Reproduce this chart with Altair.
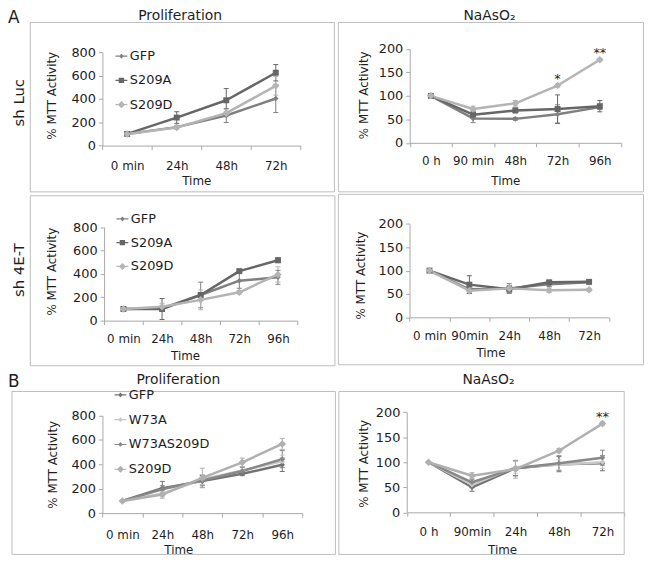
import altair as alt
import pandas as pd

W, H = 644, 550
FONT = "DejaVu Sans"
INK = "#1e1e1e"
AXC = "#a8a8a8"
FRAME = "#bdbdbd"

# ---------------- values ----------------
a_series = ["GFP", "S209A", "S209D"]
b_series = ["GFP", "W73A", "W73AS209D", "S209D"]
prolif_ticks = [0, 200, 400, 600, 800]
arsenite_ticks = [0, 50, 100, 150, 200]

# A, sh Luc, Proliferation
a1_times = ["0 min", "24h", "48h", "72h"]
a1_gfp = [100, 158, 258, 403]
a1_gfp_err = [0, 15, 60, 120]
a1_s209a = [100, 240, 388, 624]
a1_s209a_err = [0, 50, 100, 70]
a1_s209d = [100, 155, 278, 512]
a1_s209d_err = [0, 15, 30, 80]

# A, sh Luc, NaAsO2
a2_times = ["0 h", "90 min", "48h", "72h", "96h"]
a2_gfp = [100, 52, 51, 61, 76]
a2_gfp_err = [0, 9, 3, 20, 5]
a2_s209a = [100, 60, 69, 72, 78]
a2_s209a_err = [0, 8, 5, 30, 12]
a2_s209d = [100, 72, 84, 122, 177]
a2_s209d_err = [0, 6, 6, 3, 3]
a2_star_times = ["72h", "96h"]
a2_star_values = [122, 177]
a2_star_marks = ["*", "**"]

# A, sh 4E-T, Proliferation
a3_times = ["0 min", "24h", "48h", "72h", "96h"]
a3_gfp = [100, 105, 220, 342, 371]
a3_gfp_err = [0, 20, 110, 65, 60]
a3_s209a = [100, 100, 220, 424, 517]
a3_s209a_err = [0, 90, 20, 15, 20]
a3_s209d = [100, 119, 178, 243, 396]
a3_s209d_err = [0, 30, 85, 15, 65]

# A, sh 4E-T, NaAsO2
a4_times = ["0 min", "90min", "24h", "48h", "72h"]
a4_gfp = [100, 60, 62, 71, 75]
a4_gfp_err = [0, 8, 10, 5, 3]
a4_s209a = [100, 70, 60, 75, 76]
a4_s209a_err = [0, 19, 8, 4, 3]
a4_s209d = [100, 57, 62, 58, 59]
a4_s209d_err = [0, 4, 5, 5, 3]

# B, Proliferation
b1_times = ["0 min", "24h", "48h", "72h", "96h"]
b1_gfp = [100, 205, 262, 322, 396]
b1_gfp_err = [0, 55, 50, 15, 55]
b1_w73a = [100, 160, 275, 350, 425]
b1_w73a_err = [0, 25, 40, 30, 50]
b1_w73as209d = [100, 195, 268, 345, 442]
b1_w73as209d_err = [0, 30, 40, 30, 70]
b1_s209d = [100, 152, 288, 416, 567]
b1_s209d_err = [0, 30, 80, 35, 45]

# B, NaAsO2
b2_times = ["0 h", "90min", "24h", "48h", "72h"]
b2_gfp = [100, 50, 88, 96, 98]
b2_gfp_err = [0, 8, 15, 15, 15]
b2_w73a = [100, 55, 90, 95, 100]
b2_w73a_err = [0, 6, 12, 10, 12]
b2_w73as209d = [100, 60, 88, 98, 109]
b2_w73as209d_err = [0, 6, 15, 15, 15]
b2_s209d = [100, 73, 86, 123, 177]
b2_s209d_err = [0, 6, 18, 4, 3]
b2_star_times = ["72h"]
b2_star_values = [177]
b2_star_marks = ["**"]

# ---------------- styles ----------------
a_colors = ["#808080", "#666666", "#b4b4b4"]
b_colors = ["#727272", "#c8c8c8", "#888888", "#b0b0b0"]

DIA_S = "M0,-0.7L0.7,0L0,0.7L-0.7,0Z"
DIA_L = "M0,-0.95L0.95,0L0,0.95L-0.95,0Z"
SQR = "M-0.75,-0.75L0.75,-0.75L0.75,0.75L-0.75,0.75Z"
a_markers = [DIA_S, SQR, DIA_L]
b_markers = [DIA_S, DIA_S, DIA_S, DIA_L]

STUB = "M-1,-0.1L1,-0.1L1,0.1L-1,0.1Z "
L_DIA_S = STUB + "M0,-0.4L0.4,0L0,0.4L-0.4,0Z"
L_DIA_L = STUB + "M0,-0.6L0.6,0L0,0.6L-0.6,0Z"
L_SQR = STUB + "M-0.45,-0.45L0.45,-0.45L0.45,0.45L-0.45,0.45Z"
a_legend_marks = [L_DIA_S, L_SQR, L_DIA_L]
b_legend_marks = [L_DIA_S, L_DIA_S, L_DIA_S, L_DIA_L]


def long_table(times, series, vals, errs):
    rows = []
    for s, v, e in zip(series, vals, errs):
        for i, (t, vv, ee) in enumerate(zip(times, v, e)):
            rows.append({"time": t, "idx": i, "series": s, "value": vv,
                         "err": ee, "lo": vv - ee, "hi": vv + ee})
    return pd.DataFrame(rows)


def panel(df, times, series, colors, markers, ticks, g, leg=None, legend_marks=None, stars=None):
    xscale = alt.Scale(type="band", domain=times, range=[g["x0"], g["x1"]],
                       paddingInner=0, paddingOuter=0)
    yscale = alt.Scale(type="linear", domain=[ticks[0], ticks[-1]], range=[g["y0"], g["y1"]],
                       nice=False, zero=False)
    xaxis = alt.Axis(orient="bottom", offset=g["y0"] - H, title="Time", tickBand="extent",
                     labelAngle=0, labelFont=FONT, labelFontSize=12, labelColor=INK,
                     labelPadding=g["xpad"], labelOverlap=False, tickSize=4, tickColor=AXC,
                     domainColor=AXC, grid=False, titleFont=FONT, titleFontSize=12,
                     titleFontWeight="normal", titleColor=INK, titleX=g["tx"],
                     titleY=g["ty"] - g["y0"], titleAlign="center", titleBaseline="middle")
    yaxis = alt.Axis(orient="left", offset=-g["x0"], values=ticks, title="% MTT Activity",
                     labelFont=FONT, labelFontSize=13, labelColor=INK, labelPadding=3,
                     labelOverlap=False, tickSize=4, tickColor=AXC, domainColor=AXC, grid=False,
                     titleFont=FONT, titleFontSize=12, titleFontWeight="normal", titleColor=INK,
                     titleAngle=270, titleX=g["yx"] - g["x0"], titleY=g["yy"],
                     titleAlign="center", titleBaseline="middle")

    def X():
        return alt.X("time:N", scale=xscale, axis=xaxis, bandPosition=0.5)

    def Y(f):
        return alt.Y(f + ":Q", scale=yscale, axis=yaxis)

    def C(legend=None):
        if legend is None:
            return alt.Color("series:N", scale=alt.Scale(domain=series, range=colors), legend=None)
        return alt.Color("series:N", scale=alt.Scale(domain=series, range=colors), legend=legend, title=None)

    base = alt.Chart(df)
    errs = base.transform_filter("datum.err > 0")
    layers = [
        errs.mark_rule(strokeWidth=1).encode(x=X(), y=Y("lo"), y2="hi:Q", color=C()),
        errs.mark_point(shape="M-1,0L1,0", filled=False, size=25, strokeWidth=1, opacity=1).encode(
            x=X(), y=Y("lo"), color=C()),
        errs.mark_point(shape="M-1,0L1,0", filled=False, size=25, strokeWidth=1, opacity=1).encode(
            x=X(), y=Y("hi"), color=C()),
        base.mark_line(strokeWidth=2.5, strokeJoin="round").encode(
            x=X(), y=Y("value"), color=C(), order="idx:Q"),
        base.mark_point(filled=True, size=64, opacity=1, strokeWidth=0).encode(
            x=X(), y=Y("value"), color=C(),
            shape=alt.Shape("series:N", scale=alt.Scale(domain=series, range=markers), legend=None)),
    ]
    if leg is not None:
        L = alt.Legend(orient="none", legendX=leg["x"], legendY=leg["y"], labelFont=FONT,
                       labelFontSize=13, labelColor=INK, symbolSize=144, symbolStrokeWidth=0,
                       rowPadding=leg["rp"], labelOffset=2, padding=0)
        layers.append(
            base.transform_filter("false").mark_point(filled=True, size=144, opacity=1).encode(
                x=X(), y=Y("value"), color=C(L),
                shape=alt.Shape("series:N", scale=alt.Scale(domain=series, range=legend_marks),
                                legend=L, title=None)))
    if stars is not None:
        sdf = pd.DataFrame({"time": stars[0], "value": stars[1], "mark": stars[2]})
        layers.append(alt.Chart(sdf).mark_text(font=FONT, fontSize=13, color=INK, dy=-3,
                                              baseline="alphabetic").encode(
            x=X(), y=Y("value"), text="mark:N"))
    return alt.layer(*layers).resolve_scale(color="independent", shape="independent")


one = pd.DataFrame({"k": [0]})


def box(x0, y0, x1, y1):
    return alt.Chart(one).mark_rect(fill="transparent", stroke=FRAME, strokeWidth=1).encode(
        x=alt.value(x0), x2=alt.value(x1), y=alt.value(y0), y2=alt.value(y1))


def label(txt, x, y, size, angle=0, align="center", baseline="alphabetic"):
    return alt.Chart(one).mark_text(text=txt, font=FONT, fontSize=size, color=INK, align=align,
                                    baseline=baseline, angle=angle).encode(
        x=alt.value(x), y=alt.value(y))


dA1 = long_table(a1_times, a_series, [a1_gfp, a1_s209a, a1_s209d], [a1_gfp_err, a1_s209a_err, a1_s209d_err])
dA2 = long_table(a2_times, a_series, [a2_gfp, a2_s209a, a2_s209d], [a2_gfp_err, a2_s209a_err, a2_s209d_err])
dA3 = long_table(a3_times, a_series, [a3_gfp, a3_s209a, a3_s209d], [a3_gfp_err, a3_s209a_err, a3_s209d_err])
dA4 = long_table(a4_times, a_series, [a4_gfp, a4_s209a, a4_s209d], [a4_gfp_err, a4_s209a_err, a4_s209d_err])
dB1 = long_table(b1_times, b_series, [b1_gfp, b1_w73a, b1_w73as209d, b1_s209d],
                 [b1_gfp_err, b1_w73a_err, b1_w73as209d_err, b1_s209d_err])
dB2 = long_table(b2_times, b_series, [b2_gfp, b2_w73a, b2_w73as209d, b2_s209d],
                 [b2_gfp_err, b2_w73a_err, b2_w73as209d_err, b2_s209d_err])

gA1 = dict(x0=95.3, x1=295.3, y0=136.3, y1=42.0, xpad=11, tx=190, ty=172, yx=43.7, yy=85.5)
gA2 = dict(x0=405.5, x1=618.7, y0=133.5, y1=38.7, xpad=9, tx=502, ty=172, yx=358.7, yy=85)
gA3 = dict(x0=97, x1=292, y0=313, y1=218.7, xpad=9, tx=178.7, ty=348.7, yx=43.7, yy=263)
gA4 = dict(x0=405.3, x1=606.7, y0=309.7, y1=215.3, xpad=9, tx=487, ty=345, yx=356.3, yy=267)
gB1 = dict(x0=95.3, x1=297, y0=507.3, y1=408.7, xpad=12.5, tx=172, ty=544.5, yx=45.3, yy=458)
gB2 = dict(x0=402.5, x1=622, y0=506.5, y1=405.3, xpad=10.8, tx=498.7, ty=543.7, yx=358.7, yy=457)

pA1 = panel(dA1, a1_times, a_series, a_colors, a_markers, prolif_ticks, gA1,
            leg=dict(x=108, y=39.5, rp=10.5), legend_marks=a_legend_marks)
pA2 = panel(dA2, a2_times, a_series, a_colors, a_markers, arsenite_ticks, gA2,
            stars=(a2_star_times, a2_star_values, a2_star_marks))
pA3 = panel(dA3, a3_times, a_series, a_colors, a_markers, prolif_ticks, gA3,
            leg=dict(x=109, y=203.8, rp=10), legend_marks=a_legend_marks)
pA4 = panel(dA4, a4_times, a_series, a_colors, a_markers, arsenite_ticks, gA4)
pB1 = panel(dB1, b1_times, b_series, b_colors, b_markers, prolif_ticks, gB1,
            leg=dict(x=107, y=381.5, rp=11), legend_marks=b_legend_marks)
pB2 = panel(dB2, b2_times, b_series, b_colors, b_markers, arsenite_ticks, gB2,
            stars=(b2_star_times, b2_star_values, b2_star_marks))

deco = [
    box(22.5, 12, 329.5, 183), box(333.5, 12, 641.5, 183),
    box(22.5, 187, 330, 358.5), box(333.5, 185.5, 641.5, 357.5),
    box(4, 384.5, 330.5, 549), box(334, 384.5, 622, 549),
    label("A", 0, 12.5, 17, align="left"),
    label("B", 0, 380, 17, align="left"),
    label("Proliferation", 173.7, 10, 14),
    label("NaAsO\u2082", 486, 10, 14),
    label("Proliferation", 172, 377, 14),
    label("NaAsO\u2082", 485, 377, 14),
    label("sh Luc", 11, 93, 15, angle=270, baseline="middle"),
    label("sh 4E-T", 11, 262, 15, angle=270, baseline="middle"),
]

chart = alt.layer(*deco, pA1, pA2, pA3, pA4, pB1, pB2).resolve_scale(
    x="independent", y="independent", color="independent", shape="independent"
).properties(
    width=W, height=H, padding=0, autosize=alt.AutoSizeParams(type="none")
).configure_view(stroke=None)

chart.save("out.html", embed_options={"renderer": "svg", "actions": False})
